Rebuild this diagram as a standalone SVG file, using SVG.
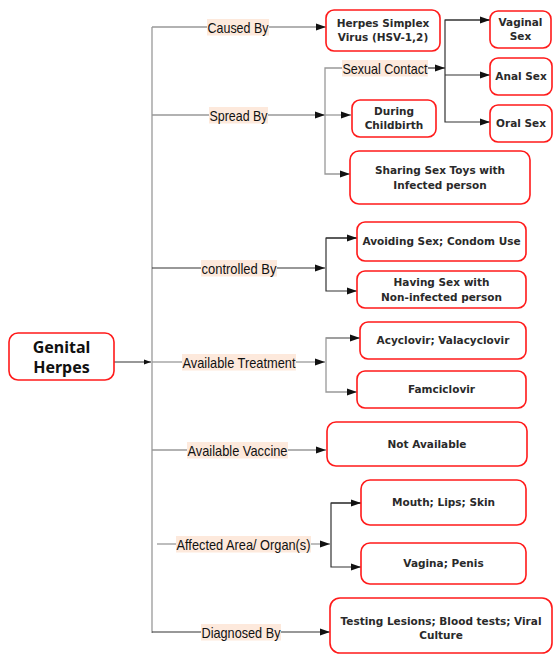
<svg xmlns="http://www.w3.org/2000/svg" width="555" height="654" viewBox="0 0 555 654">
<defs>
<marker id="ah" markerWidth="10" markerHeight="8" refX="10" refY="4" orient="auto" markerUnits="userSpaceOnUse"><path d="M0,0.5 L10,4 L0,7.5 z" fill="#111"/></marker>
<marker id="ahs" markerWidth="7" markerHeight="6" refX="7" refY="3" orient="auto" markerUnits="userSpaceOnUse"><path d="M0,0.5 L7,3 L0,5.5 z" fill="#111"/></marker>
<style>
.box{fill:#fff;stroke:#ff1a1a;stroke-width:1.6}
.bt{font-family:"DejaVu Sans",Verdana,sans-serif;font-weight:bold;font-size:10.5px;fill:#2a2a2a;text-anchor:middle}
.rt{font-family:"Noto Sans","DejaVu Sans",sans-serif;font-weight:bold;font-size:16px;fill:#111;text-anchor:middle}
.lb{font-family:"Liberation Sans",Arial,sans-serif;font-size:15px;fill:#111}
.lbg{fill:#fde9dc}
.g{stroke:#999;stroke-width:1.3;fill:none}
.k{stroke:#333;stroke-width:1.2;fill:none}
</style>
</defs>

<g id="connectors">
<line class="k" x1="114" y1="362" x2="151" y2="362" marker-end="url(#ahs)"/>
<line class="g" x1="152" y1="27" x2="152" y2="633"/>
<line class="g" x1="152" y1="27" x2="207" y2="27"/>
<line class="g" x1="269" y1="27" x2="326" y2="27" marker-end="url(#ah)"/>
<line class="g" x1="152" y1="115" x2="209" y2="115"/>
<line class="g" x1="268" y1="115" x2="325" y2="115" marker-end="url(#ah)"/>
<polyline class="g" points="342,68 325,68 325,174 350,174" marker-end="url(#ah)"/>
<line class="g" x1="325" y1="115" x2="351" y2="115" marker-end="url(#ah)"/>
<line class="k" x1="428" y1="68" x2="445" y2="68" marker-end="url(#ah)"/>
<polyline class="k" points="490,20 445,20 445,122 490,122" marker-end="url(#ah)"/>
<line class="k" x1="445" y1="20" x2="490" y2="20" marker-end="url(#ah)"/>
<line class="k" x1="445" y1="75" x2="490" y2="75" marker-end="url(#ah)"/>
<line class="k" x1="152" y1="268" x2="201" y2="268"/>
<line class="k" x1="277" y1="268" x2="325" y2="268" marker-end="url(#ah)"/>
<polyline class="k" points="357,238 326,238 326,291 357,291" marker-end="url(#ah)"/>
<line class="k" x1="326" y1="238" x2="357" y2="238" marker-end="url(#ah)"/>
<line class="g" x1="152" y1="362" x2="182" y2="362"/>
<line class="g" x1="296" y1="362" x2="325" y2="362" marker-end="url(#ah)"/>
<polyline class="g" points="360,338 326,338 326,392 357,392" marker-end="url(#ah)"/>
<line class="g" x1="326" y1="338" x2="360" y2="338" marker-end="url(#ah)"/>
<line class="g" x1="152" y1="450" x2="187" y2="450"/>
<line class="g" x1="288" y1="450" x2="326" y2="450" marker-end="url(#ah)"/>
<line class="g" x1="157" y1="544" x2="176" y2="544"/>
<line class="g" x1="311" y1="544" x2="330" y2="544" marker-end="url(#ah)"/>
<polyline class="k" points="361,503 331,503 331,567 361,567" marker-end="url(#ah)"/>
<line class="k" x1="331" y1="503" x2="361" y2="503" marker-end="url(#ah)"/>
<line class="k" x1="152" y1="632" x2="201" y2="632"/>
<line class="k" x1="281" y1="632" x2="330" y2="632" marker-end="url(#ah)"/>
</g>

<g id="labels">
<rect class="lbg" x="207" y="19" width="62" height="16.5"/><text class="lb" x="207.5" y="32.5" textLength="61" lengthAdjust="spacingAndGlyphs">Caused By</text>
<rect class="lbg" x="209" y="107" width="59" height="16.5"/><text class="lb" x="209.5" y="120.5" textLength="58" lengthAdjust="spacingAndGlyphs">Spread By</text>
<rect class="lbg" x="342" y="60" width="86" height="16.5"/><text class="lb" x="342.5" y="73.5" textLength="85" lengthAdjust="spacingAndGlyphs">Sexual Contact</text>
<rect class="lbg" x="201" y="260" width="76" height="16.5"/><text class="lb" x="201.5" y="273.5" textLength="75" lengthAdjust="spacingAndGlyphs">controlled By</text>
<rect class="lbg" x="182" y="354" width="114" height="16.5"/><text class="lb" x="182.5" y="367.5" textLength="113" lengthAdjust="spacingAndGlyphs">Available Treatment</text>
<rect class="lbg" x="187" y="442" width="101" height="16.5"/><text class="lb" x="187.5" y="455.5" textLength="100" lengthAdjust="spacingAndGlyphs">Available Vaccine</text>
<rect class="lbg" x="176" y="536" width="135" height="16.5"/><text class="lb" x="176.5" y="549.5" textLength="134" lengthAdjust="spacingAndGlyphs">Affected Area/ Organ(s)</text>
<rect class="lbg" x="201" y="624" width="80" height="16.5"/><text class="lb" x="201.5" y="637.5" textLength="79" lengthAdjust="spacingAndGlyphs">Diagnosed By</text>
</g>

<g id="root"><rect class="box" x="9" y="333" width="105" height="47" rx="9"/><text class="rt" x="61.5" y="353">Genital</text><text class="rt" x="61.5" y="373">Herpes</text></g>
<g id="hsv"><rect class="box" x="326" y="10" width="114" height="41" rx="8"/><text class="bt" x="383" y="27">Herpes Simplex</text><text class="bt" x="383" y="41">Virus (HSV-1,2)</text></g>
<g id="vaginal-sex"><rect class="box" x="490" y="11" width="61" height="37" rx="8"/><text class="bt" x="520.5" y="26">Vaginal</text><text class="bt" x="520.5" y="40">Sex</text></g>
<g id="anal-sex"><rect class="box" x="490" y="58" width="62" height="37" rx="8"/><text class="bt" x="521" y="80">Anal Sex</text></g>
<g id="oral-sex"><rect class="box" x="490" y="105" width="62" height="37" rx="8"/><text class="bt" x="521" y="127">Oral Sex</text></g>
<g id="childbirth"><rect class="box" x="352" y="100" width="84" height="37" rx="8"/><text class="bt" x="394" y="115">During</text><text class="bt" x="394" y="129">Childbirth</text></g>
<g id="sex-toys"><rect class="box" x="350" y="151" width="180" height="53" rx="9"/><text class="bt" x="440" y="174">Sharing Sex Toys with</text><text class="bt" x="440" y="189">Infected person</text></g>
<g id="avoiding"><rect class="box" x="357" y="222" width="169" height="39" rx="8"/><text class="bt" x="441.5" y="245">Avoiding Sex; Condom Use</text></g>
<g id="having-sex"><rect class="box" x="357" y="271" width="169" height="37" rx="8"/><text class="bt" x="441.5" y="286">Having Sex with</text><text class="bt" x="441.5" y="301">Non-infected person</text></g>
<g id="acyclovir"><rect class="box" x="360" y="322" width="166" height="37" rx="8"/><text class="bt" x="443" y="344">Acyclovir; Valacyclovir</text></g>
<g id="famciclovir"><rect class="box" x="357" y="371" width="169" height="37" rx="8"/><text class="bt" x="441.5" y="393">Famciclovir</text></g>
<g id="not-available"><rect class="box" x="327" y="422" width="200" height="44" rx="9"/><text class="bt" x="427" y="448">Not Available</text></g>
<g id="mouth"><rect class="box" x="361" y="480" width="165" height="45" rx="9"/><text class="bt" x="443.5" y="506">Mouth; Lips; Skin</text></g>
<g id="vagina"><rect class="box" x="361" y="543" width="165" height="41" rx="9"/><text class="bt" x="443.5" y="567">Vagina; Penis</text></g>
<g id="testing"><rect class="box" x="330" y="598" width="222" height="55" rx="10"/><text class="bt" x="441" y="625">Testing Lesions; Blood tests; Viral</text><text class="bt" x="441" y="639">Culture</text></g>
</svg>
